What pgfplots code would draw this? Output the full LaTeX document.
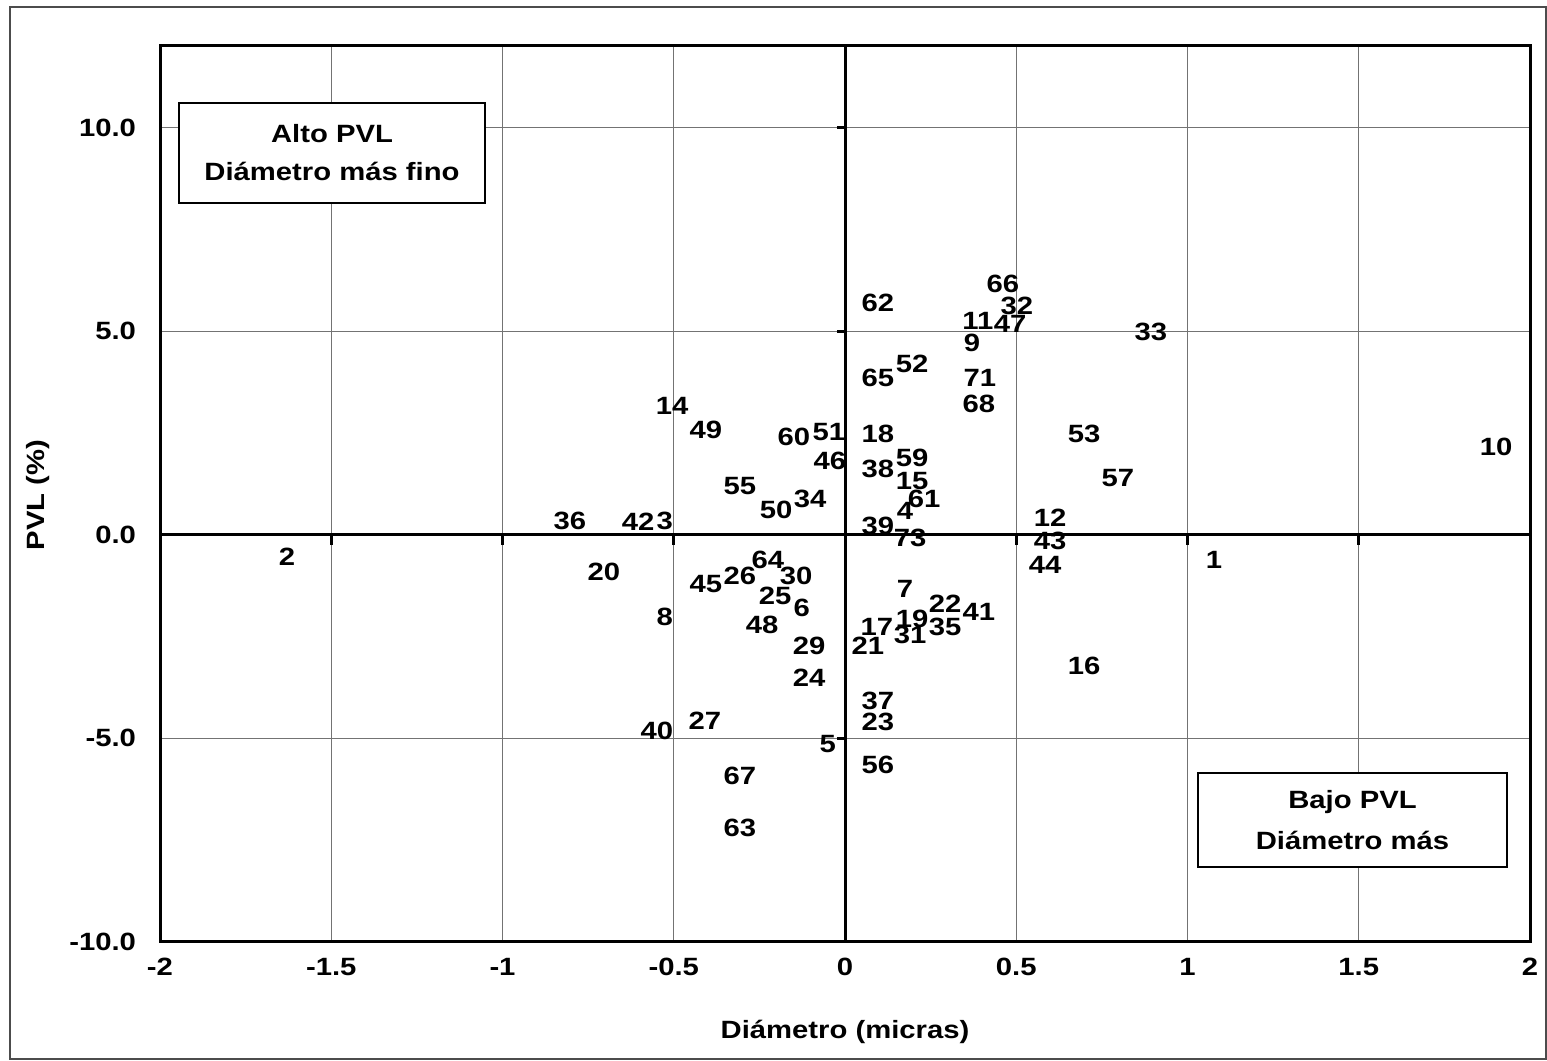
\documentclass[border=0pt]{standalone}
\usepackage{pgfplots}
\pgfplotsset{compat=1.18}
\usepackage{fontspec}
\setmainfont{Liberation Sans}[FakeStretch=1.17]
\pgfplotstableread{
x y lab
1.077 -0.63 1
-1.629 -0.53 2
-0.526 0.33 3
0.175 0.58 4
-0.050 -5.14 5
-0.126 -1.79 6
0.175 -1.32 7
-0.526 -2.01 8
0.371 4.70 9
1.901 2.16 10
0.388 5.26 11
0.599 0.41 12
-0.505 3.17 14
0.196 1.32 15
0.698 -3.22 16
0.093 -2.26 17
0.096 2.48 18
0.196 -2.06 19
-0.704 -0.92 20
0.067 -2.72 21
0.292 -1.69 22
0.096 -4.60 23
-0.105 -3.51 24
-0.204 -1.49 25
-0.307 -1.02 26
-0.409 -4.57 27
-0.105 -2.72 29
-0.143 -1.02 30
0.190 -2.45 31
0.502 5.61 32
0.893 4.99 33
-0.102 0.88 34
0.292 -2.26 35
-0.803 0.33 36
0.096 -4.08 37
0.096 1.62 38
0.096 0.21 39
-0.549 -4.82 40
0.391 -1.89 41
-0.604 0.31 42
0.599 -0.14 43
0.584 -0.73 44
-0.406 -1.20 45
-0.044 1.81 46
0.482 5.17 47
-0.242 -2.21 48
-0.406 2.58 49
-0.201 0.60 50
-0.047 2.53 51
0.196 4.20 52
0.698 2.48 53
-0.307 1.20 55
0.096 -5.66 56
0.797 1.39 57
0.196 1.89 59
-0.149 2.40 60
0.231 0.88 61
0.096 5.68 62
-0.307 -7.21 63
-0.225 -0.63 64
0.096 3.86 65
0.461 6.15 66
-0.307 -5.93 67
0.391 3.22 68
0.394 3.86 71
0.190 -0.09 73
}\pvldata
\begin{document}
\begin{tikzpicture}
\path[use as bounding box] (0pt,0pt) rectangle (773.5pt,530pt);
\draw[black!70, line width=0.6pt] (5pt,0.5pt) rectangle (773pt,526.5pt);
\begin{axis}[
  at={(80pt,59pt)}, anchor=south west,
  scale only axis, width=685pt, height=448pt,
  xmin=-2, xmax=2, ymin=-10, ymax=12,
  axis line style={line width=1.5pt},
  grid=major, major grid style={black!55, line width=0.5pt},
  major tick length=0pt,
  xtick={-2,-1.5,-1,-0.5,0,0.5,1,1.5,2},
  xticklabels={-2,-1.5,-1,-0.5,0,0.5,1,1.5,2},
  ytick={-10,-5,0,5,10},
  yticklabels={-10.0,-5.0,0.0,5.0,10.0},
  tick label style={font=\fontsize{12.5}{14}\selectfont\bfseries},
  xticklabel style={yshift=-4.5pt},
  yticklabel style={xshift=-8.5pt},
  clip=false,
]
\draw[line width=1.5pt] (axis cs:-2,0) -- (axis cs:2,0);
\draw[line width=1.5pt] (axis cs:0,-10) -- (axis cs:0,12);
\pgfplotsinvokeforeach{-1.5,-1,-0.5,0.5,1,1.5}{
  \draw[line width=1.5pt] (axis cs:#1,0) -- ([yshift=-5pt]axis cs:#1,0);
}
\pgfplotsinvokeforeach{-5,5,10}{
  \draw[line width=1.5pt] (axis cs:0,#1) -- ([xshift=-4pt]axis cs:0,#1);
}
\addplot[only marks, mark=none, nodes near coords, point meta=explicit symbolic,
  every node near coord/.append style={anchor=center, inner sep=0pt, font=\fontsize{12.5}{14}\selectfont\bfseries}]
  table[x=x, y=y, meta=lab] {\pvldata};
\end{axis}
\node[draw, line width=1pt, fill=white, minimum width=153pt, minimum height=50pt, align=center,
  font=\fontsize{12.5}{19}\selectfont\bfseries] at (166pt,453.5pt) {Alto PVL\\Diámetro más fino};
\node[draw, line width=1pt, fill=white, minimum width=154.5pt, minimum height=47pt, align=center,
  font=\fontsize{12.5}{20.5}\selectfont\bfseries] at (676.25pt,120pt) {Bajo PVL\\Diámetro más};
\node[rotate=90, font=\fontsize{12.5}{14}\selectfont\bfseries] at (19pt,282.5pt) {PVL (\%)};
\node[font=\fontsize{12.5}{14}\selectfont\bfseries] at (422.5pt,14pt) {Diámetro (micras)};
\end{tikzpicture}
\end{document}
